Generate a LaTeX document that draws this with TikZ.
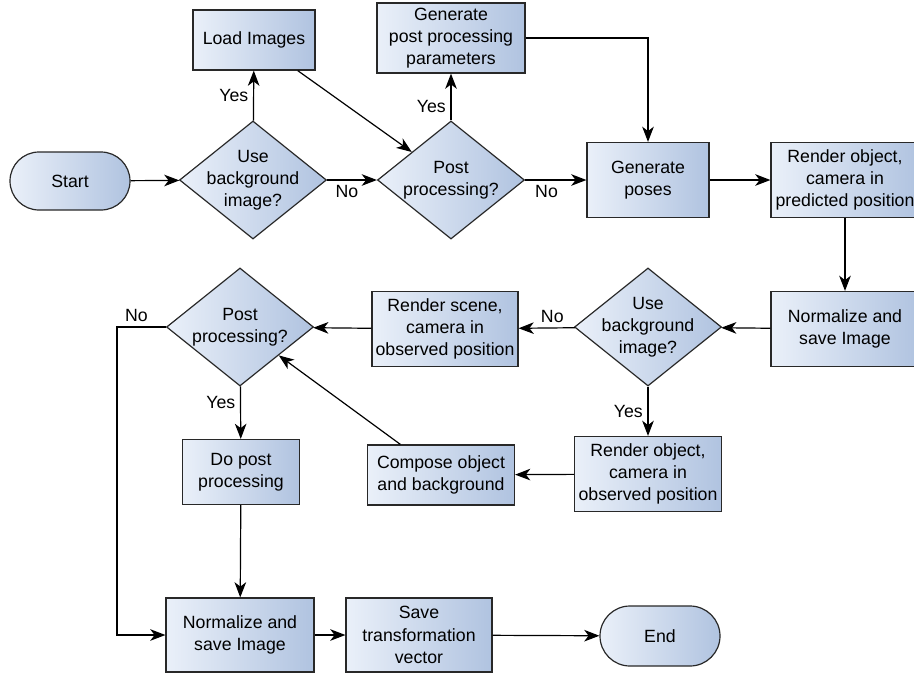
\documentclass[tikz,border=0pt]{standalone}
\usepackage{fontspec}
\setmainfont{Liberation Sans}
\usepackage{tikz}
\usetikzlibrary{shapes.geometric, arrows.meta, calc}

\definecolor{boxlight}{RGB}{234,240,249}
\definecolor{boxdark}{RGB}{176,195,224}
\definecolor{edgegray}{RGB}{40,40,40}

\begin{document}
\begin{tikzpicture}[>={Stealth[length=3.8mm, width=2.9mm, inset=1.1mm]}, line width=0.85pt,
    font=\fontsize{12.6}{15.8}\selectfont,
    shade/.style={draw=edgegray, left color=boxlight, right color=boxdark},
    proc/.style={shade, rectangle, align=center, inner sep=1pt,
      minimum width=3.7cm, minimum height=1.875cm},
    terminal/.style={shade, rectangle, rounded corners=7.25mm,
      minimum width=3cm, minimum height=1.45cm},
    decision/.style={shade, diamond, inner sep=0pt,
      minimum width=3.675cm, minimum height=2.95cm}]
      \useasboundingbox (0,0) rectangle (22.85,-16.875);

      % Top row
      \node[terminal] (start) at (1.75,-4.525) {Start};
      \node[decision, label={[align=center]center:Use\\background\\image?}] (use1) at (6.325,-4.5) {};
      \node[proc, minimum width=3.05cm, minimum height=1.5cm] (load) at (6.35,-1.0) {Load Images};
      \node[decision, label={[align=center]center:Post\\processing?}] (post1) at (11.275,-4.5) {};
      \node[proc, minimum height=1.75cm] (params) at (11.275,-0.95) {Generate\\post processing\\parameters};
      \node[proc, minimum width=3.05cm] (poses) at (16.2,-4.5) {Generate\\poses};
      \node[proc] (rpred) at (21.125,-4.5) {Render object,\\camera in\\predicted position};

      % Middle row
      \node[proc] (norm1) at (21.125,-8.225) {Normalize and\\save Image};
      \node[decision, label={[align=center]center:Use\\background\\image?}] (use2) at (16.2,-8.175) {};
      \node[proc, minimum width=3.65cm] (rscene) at (11.125,-8.225) {Render scene,\\camera in\\observed position};
      \node[decision, label={[align=center]center:Post\\processing?}] (post2) at (6.0,-8.175) {};
      \node[proc, minimum width=2.925cm, minimum height=1.625cm] (dopost) at (6.025,-11.8) {Do post\\processing};
      \node[proc, minimum width=3.675cm, minimum height=1.5cm] (compose) at (11.025,-11.875) {Compose object\\and background};
      \node[proc, minimum width=3.675cm] (robs) at (16.2,-11.85) {Render object,\\camera in\\observed position};

      % Bottom row
      \node[proc, minimum height=1.85cm] (norm2) at (6.0,-15.875) {Normalize and\\save Image};
      \node[proc, minimum width=3.65cm, minimum height=1.85cm] (savetr) at (10.475,-15.875) {Save\\transformation\\vector};
      \node[terminal, minimum height=1.5cm, rounded corners=7.5mm] (end) at (16.5,-15.9) {End};

      % Connections
      \draw[->] (start) -- (use1);
      \draw[->] (use1) -- node[left] {Yes} (load);
      \draw[->] (use1) -- node[pos=0.4, below] {No} (post1);
      \draw[->] (load.-35) -- (post1);
      \draw[->] (post1) -- node[pos=0.3, left] {Yes} (params);
      \draw[->] (post1) -- node[pos=0.35, below] {No} (poses);
      \draw[->] (params.east) -| (poses.north);
      \draw[->] (poses) -- (rpred);
      \draw[->] (rpred) -- (norm1);
      \draw[->] (norm1) -- (use2);
      \draw[->] (use2) -- node[pos=0.4, above] {No} (rscene);
      \draw[->] (use2) -- node[left] {Yes} (robs);
      \draw[->] (robs) -- (compose);
      \draw[->] (compose.143) -- (post2);
      \draw[->] (rscene) -- (post2);
      \draw[->] (post2) -- node[pos=0.3, left] {Yes} (dopost);
      \draw[->] (post2.west) -- ++(-1.225,0) node[pos=0.6, above] {No} |- (norm2.west);
      \draw[->] (dopost) -- (norm2);
      \draw[->] (norm2) -- (savetr);
      \draw[->] (savetr) -- (end);
\end{tikzpicture}
\end{document}
